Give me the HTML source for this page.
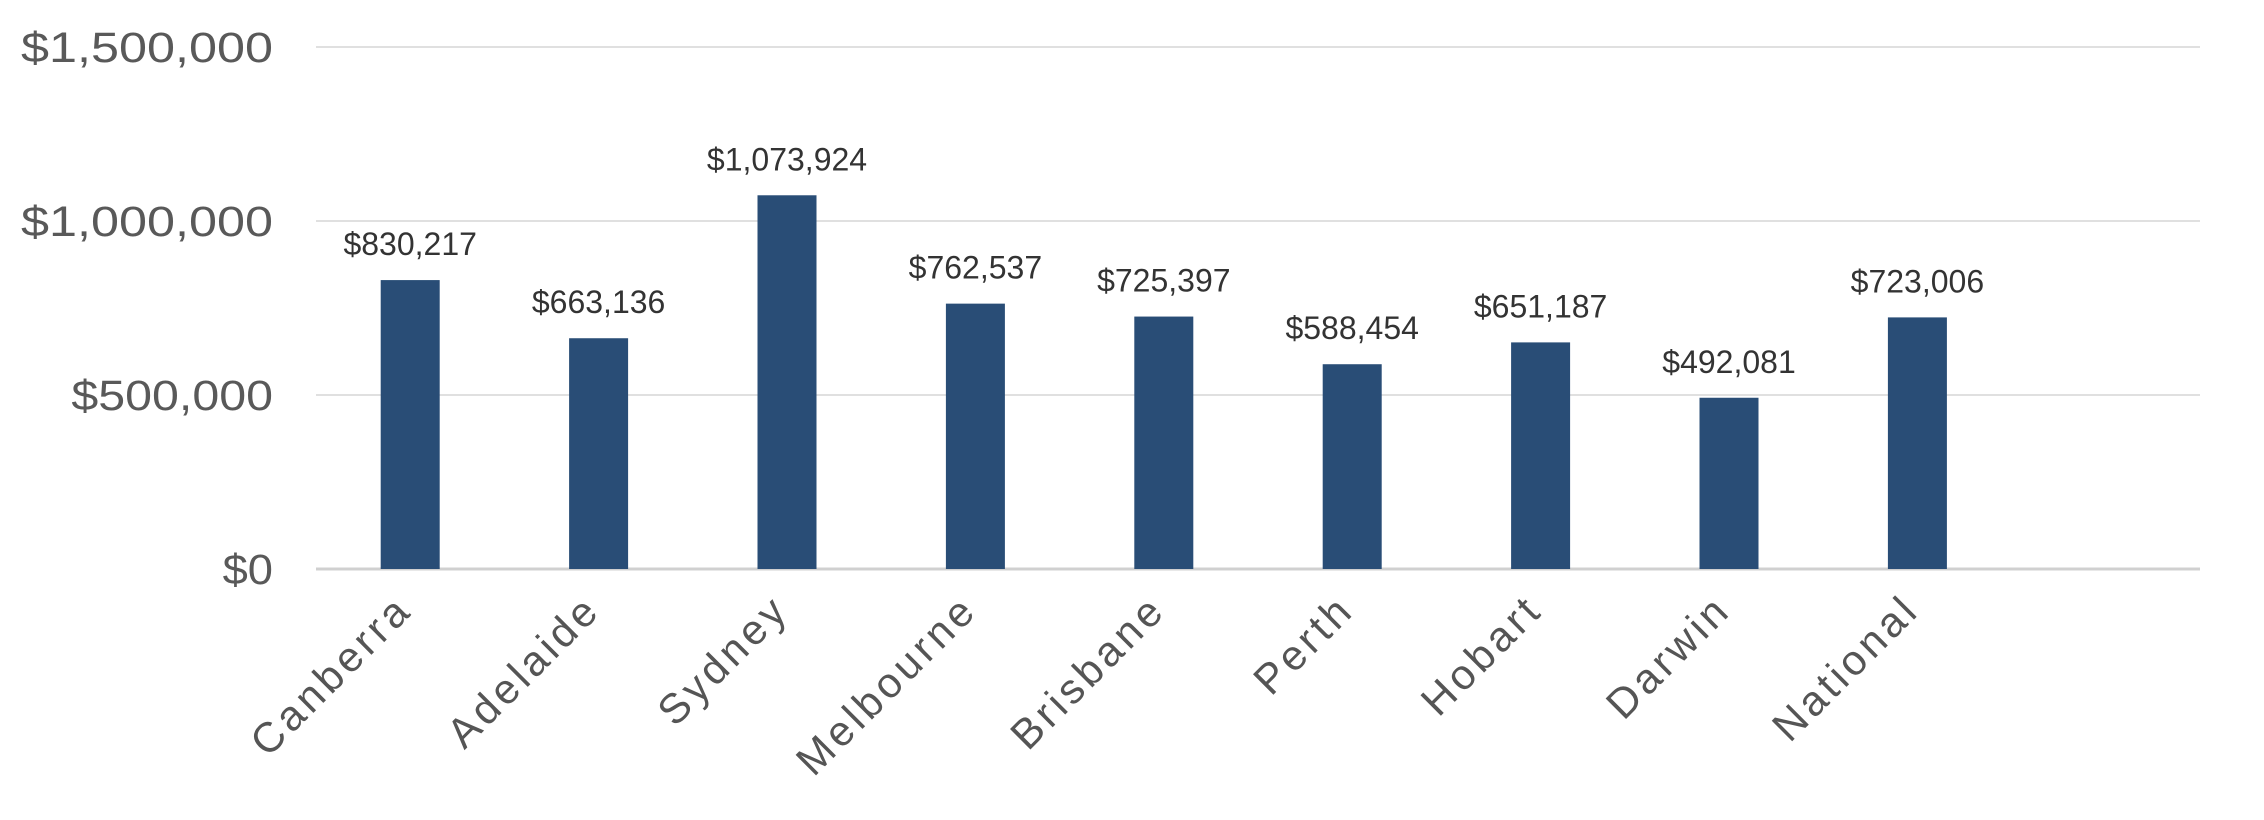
<!DOCTYPE html>
<html><head><meta charset="utf-8"><style>
html,body{margin:0;padding:0;background:#fff;}
svg{display:block;}
</style></head><body>
<svg id="chart" width="2264" height="820" viewBox="0 0 2264 820" xmlns="http://www.w3.org/2000/svg" font-family="'Liberation Sans', sans-serif"></svg>
<script>
const categories = ["Canberra","Adelaide","Sydney","Melbourne","Brisbane","Perth","Hobart","Darwin","National"];
const values = [830217,663136,1073924,762537,725397,588454,651187,492081,723006];
const valueLabels = ["$830,217","$663,136","$1,073,924","$762,537","$725,397","$588,454","$651,187","$492,081","$723,006"];
const yTicks = [0,500000,1000000,1500000];
const yTickLabels = ["$0","$500,000","$1,000,000","$1,500,000"];

const svg = document.getElementById('chart');
const NS = 'http://www.w3.org/2000/svg';
const plotLeft = 316, plotRight = 2200, y0 = 569, y1 = 47, yMax = 1500000;
const nBands = 10;
const band = (plotRight - plotLeft) / nBands;
const barW = 59;
function yScale(v){ return y0 - (v / yMax) * (y0 - y1); }
function xCenter(i){ return plotLeft + band * (i + 0.5); }
function mk(tag, attrs){ const e = document.createElementNS(NS, tag); for (const k in attrs) e.setAttribute(k, attrs[k]); svg.appendChild(e); return e; }

yTicks.forEach((t, i) => {
  const y = yScale(t);
  const g = mk('line', {x1: plotLeft, x2: plotRight, y1: y, y2: y, stroke: i === 0 ? '#d0d0d0' : '#e0e0e0', 'stroke-width': i === 0 ? 3 : 2});
  
  
  const lbl = mk('text', {x: 273, y: y + 15, 'text-anchor': 'end', 'font-size': 43, fill: '#595959', textLength: yTickLabels[i].length * 25.2, lengthAdjust: 'spacingAndGlyphs'});
  lbl.textContent = yTickLabels[i];
  
  
});

categories.forEach((c, i) => {
  const cx = xCenter(i);
  const top = yScale(values[i]);
  const r = mk('rect', {x: cx - barW / 2, y: top, width: barW, height: y0 - top, fill: '#294d76'});
  
  
  const v = mk('text', {x: cx, y: top - 25, 'text-anchor': 'middle', 'font-size': 32, fill: '#333333'});
  v.textContent = valueLabels[i];
  
  
  const ax = cx + 4, ay = 612;
  const x = mk('text', {x: ax, y: ay, 'text-anchor': 'end', 'font-size': 42, fill: '#555555', 'letter-spacing': '4', transform: 'rotate(-45 ' + ax + ' ' + ay + ')'});
  x.textContent = c;
  
  
});
</script>
</body></html>
